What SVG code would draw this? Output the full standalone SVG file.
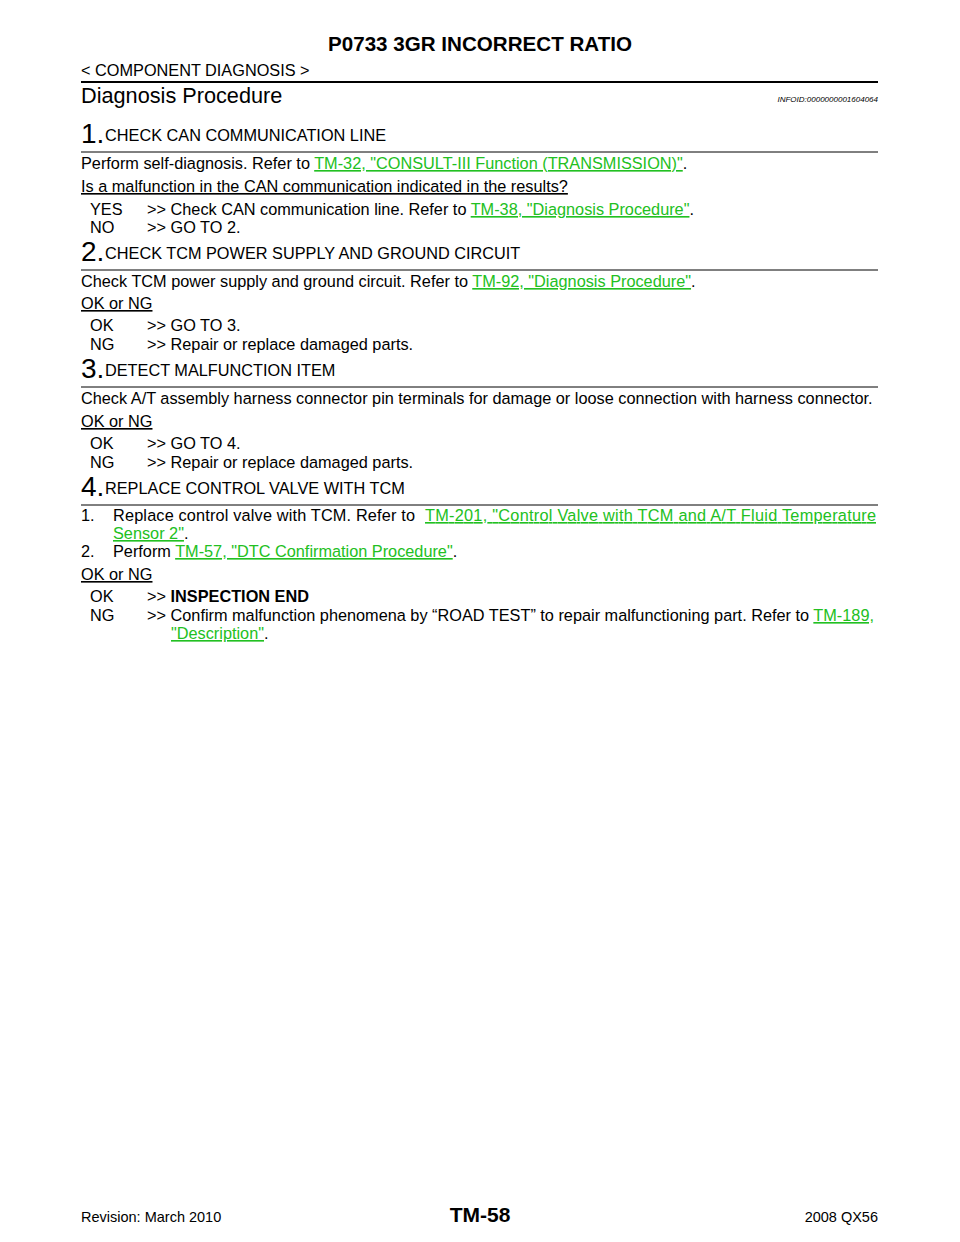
<svg xmlns="http://www.w3.org/2000/svg" width="960" height="1242" viewBox="0 0 960 1242">
<style>
text{font-family:"Liberation Sans",Arial,sans-serif;font-size:16.3px;fill:#000}
.l{fill:#22c022;text-decoration:underline}
.u{text-decoration:underline}
.n{font-size:28px}
.r{stroke:#000;stroke-width:1}
</style>
<rect width="960" height="1242" fill="#fff"/>
<text x="480" y="51" text-anchor="middle" font-weight="bold" style="font-size:20.6px">P0733 3GR INCORRECT RATIO</text>
<text x="81" y="76">&lt; COMPONENT DIAGNOSIS &gt;</text>
<line x1="81" y1="82" x2="878" y2="82" stroke="#000" stroke-width="2"/>
<text x="81" y="103" style="font-size:21.7px">Diagnosis Procedure</text>
<text x="878" y="102" text-anchor="end" font-style="italic" style="font-size:8px">INFOID:0000000001604064</text>
<g id="step1">
<text x="81" y="143" class="n">1.</text><text x="105" y="141">CHECK CAN COMMUNICATION LINE</text>
<line x1="81" y1="152" x2="878" y2="152" class="r"/>
<text x="81" y="169">Perform self-diagnosis. Refer to <tspan class="l">TM-32, "CONSULT-III Function (TRANSMISSION)"</tspan>.</text>
<text x="81" y="192" class="u">Is a malfunction in the CAN communication indicated in the results?</text>
<text x="90" y="215">YES</text><text x="147" y="215">&gt;&gt; Check CAN communication line. Refer to <tspan class="l">TM-38, "Diagnosis Procedure"</tspan>.</text>
<text x="90" y="233">NO</text><text x="147" y="233">&gt;&gt; GO TO 2.</text>
</g>
<g id="step2">
<text x="81" y="261" class="n">2.</text><text x="105" y="259">CHECK TCM POWER SUPPLY AND GROUND CIRCUIT</text>
<line x1="81" y1="270" x2="878" y2="270" class="r"/>
<text x="81" y="287">Check TCM power supply and ground circuit. Refer to <tspan class="l">TM-92, "Diagnosis Procedure"</tspan>.</text>
<text x="81" y="309" class="u">OK or NG</text>
<text x="90" y="331">OK</text><text x="147" y="331">&gt;&gt; GO TO 3.</text>
<text x="90" y="350">NG</text><text x="147" y="350">&gt;&gt; Repair or replace damaged parts.</text>
</g>
<g id="step3">
<text x="81" y="378" class="n">3.</text><text x="105" y="376">DETECT MALFUNCTION ITEM</text>
<line x1="81" y1="387" x2="878" y2="387" class="r"/>
<text x="81" y="404">Check A/T assembly harness connector pin terminals for damage or loose connection with harness connector.</text>
<text x="81" y="427" class="u">OK or NG</text>
<text x="90" y="449">OK</text><text x="147" y="449">&gt;&gt; GO TO 4.</text>
<text x="90" y="468">NG</text><text x="147" y="468">&gt;&gt; Repair or replace damaged parts.</text>
</g>
<g id="step4">
<text x="81" y="496" class="n">4.</text><text x="105" y="494">REPLACE CONTROL VALVE WITH TCM</text>
<line x1="81" y1="505" x2="878" y2="505" class="r"/>
<text x="81" y="521">1.</text><text x="113" y="521" textLength="302">Replace control valve with TCM. Refer to</text>
<text x="425" y="521" class="l" textLength="451">TM-201, "Control Valve with TCM and A/T Fluid Temperature</text>
<text x="113" y="539"><tspan class="l">Sensor 2"</tspan>.</text>
<text x="81" y="557">2.</text><text x="113" y="557">Perform <tspan class="l">TM-57, "DTC Confirmation Procedure"</tspan>.</text>
<text x="81" y="580" class="u">OK or NG</text>
<text x="90" y="602">OK</text><text x="147" y="602">&gt;&gt; <tspan font-weight="bold">INSPECTION END</tspan></text>
<text x="90" y="621">NG</text><text x="147" y="621">&gt;&gt; Confirm malfunction phenomena by “ROAD TEST” to repair malfunctioning part. Refer to <tspan class="l">TM-189,</tspan></text>
<text x="171" y="639"><tspan class="l">"Description"</tspan>.</text>
</g>
<text x="81" y="1222" style="font-size:14.5px">Revision: March 2010</text>
<text x="480" y="1222" text-anchor="middle" font-weight="bold" style="font-size:21px">TM-58</text>
<text x="878" y="1222" text-anchor="end" style="font-size:14.5px">2008 QX56</text>
</svg>
